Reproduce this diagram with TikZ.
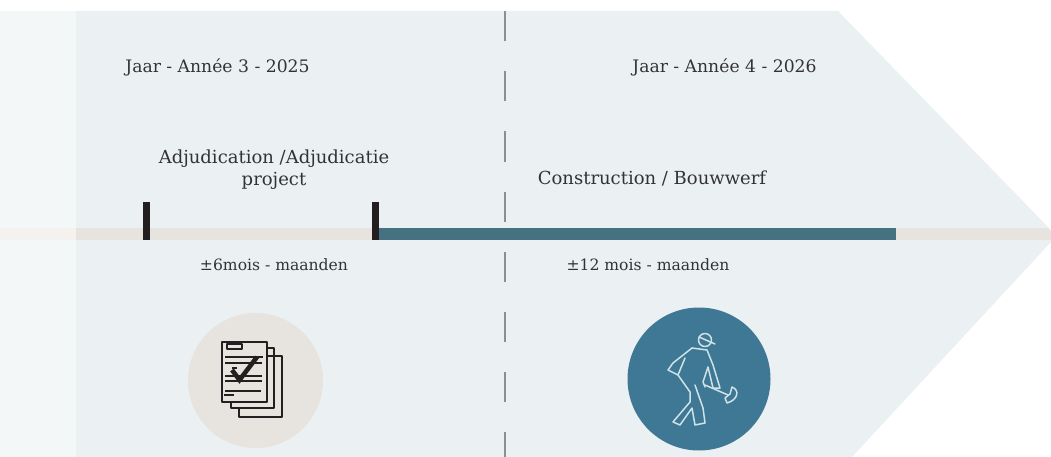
\documentclass[tikz,border=0pt]{standalone}
\usepackage{fontspec}
\setmainfont{DejaVu Serif}
\definecolor{panelblue}{HTML}{EBF1F3}
\definecolor{panelpale}{HTML}{F3F7F8}
\definecolor{bandsand}{HTML}{E7E3DF}
\definecolor{bandpale}{HTML}{F4F1EE}
\definecolor{barteal}{HTML}{467181}
\definecolor{discteal}{HTML}{3E7895}
\definecolor{inkdark}{HTML}{231F20}
\definecolor{textdark}{HTML}{333333}
\definecolor{chalk}{HTML}{CFE2E8}
\definecolor{divgray}{HTML}{8E8E8E}
\tikzset{
  yearlabel/.style={text=textdark, font=\fontsize{17.2}{21}\selectfont, inner sep=0pt},
  phaselabel/.style={text=textdark, font=\fontsize{18}{22}\selectfont, inner sep=0pt, align=center},
  timelabel/.style={text=textdark, font=\fontsize{15.6}{19}\selectfont, inner sep=0pt},
  tick/.style={fill=inkdark, draw=none},
  sketch/.style={draw=inkdark, line width=1.1pt, line join=round},
  figure/.style={draw=chalk, line width=1.5pt, line join=round, line cap=round}
}
\begin{document}
\begin{tikzpicture}[x=1pt, y=-1pt]

    \useasboundingbox (0,0) rectangle (1051,457);

    % Background arrow
    \fill[panelblue] (76,11) -- (838,11) -- (1051,230) -- (1051,242) -- (852,457) -- (76,457) -- cycle;
    \fill[panelpale] (0,11) rectangle (76,457);

    % Band
    \fill[bandpale] (0,228) rectangle (76,240);
    \fill[bandsand] (76,228) -- (1048,228) -- (1051,232) -- (1051,240) -- (76,240) -- cycle;
    \fill[barteal] (379,228) rectangle (896,240);
    \fill[tick] (143,202) rectangle (150,240);
    \fill[tick] (372,202) rectangle (379,240);

    % Divider
    \coordinate (divtop) at (505,11);
    \coordinate (divbot) at (505,457);
    \draw[divgray, line width=1.3pt, dash pattern=on 30.2pt off 30pt] (divtop) -- (divbot);

    % Labels
    \node[yearlabel] (year3) at (217.5,67) {Jaar - Année 3 - 2025};
    \node[yearlabel] (year4) at (724.5,67) {Jaar - Année 4 - 2026};
    \node[phaselabel] (adjud) at (274,170) {Adjudication /Adjudicatie\\project};
    \node[phaselabel] (constr) at (652,178) {Construction / Bouwwerf};
    \node[timelabel] (time6) at (274,265) {±6mois - maanden};
    \node[timelabel] (time12) at (648,265) {±12 mois - maanden};

    % Left: documents
    \fill[bandsand] (255.5,380.5) circle (67.5);
    \draw[sketch] (267,356) -- (282,356) -- (282,417) -- (239,417) -- (239,408);
    \draw[sketch] (267,348) -- (274,348) -- (274,408) -- (231,408) -- (231,402);
    \draw[sketch] (222,342) rectangle (267,402);
    \draw[sketch] (227,344) rectangle (242,349);
    \foreach \ya/\xb in {357/263, 363/262, 376/262, 381/262, 391/261} {
      \draw[sketch] (225,\ya) -- (\xb,\ya);
    }
    \draw[sketch] (232,368) -- (237,368);
    \draw[sketch] (224,395) -- (234,395);
    \draw[inkdark, line width=4.6pt] (232,370) -- (239.5,380) -- (257,357);

    % Right: worker
    \fill[discteal] (699,379) circle (71.5);
    \draw[figure] (705,340) circle (6.5);
    \draw[figure] (699,337) -- (715,344);
    \draw[figure] (692,348) -- (707,350) -- (713,365) -- (720,388) -- (713,388) -- (708,367) -- (703,382) -- (705,387);
    \draw[figure] (692,348) -- (673,363) -- (668,370) -- (678,375) -- (685,358);
    \draw[figure] (678,375) -- (690,392) -- (690,402) -- (673,422) -- (680,425) -- (692,408) -- (695,425) -- (705,423) -- (703,408) -- (695,385);
    \draw[figure] (705,385) -- (728,395);
    \draw[figure] (732,387) .. controls (740,390) and (738,400) .. (727,403) -- (725,398) -- (730,394) -- cycle;

  \end{tikzpicture}
\end{document}
